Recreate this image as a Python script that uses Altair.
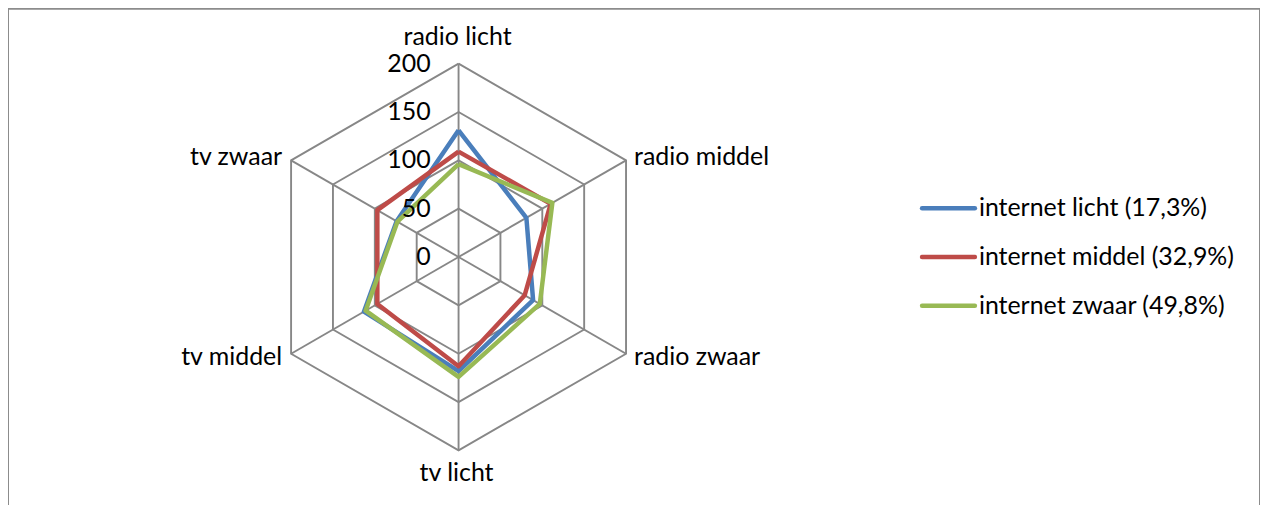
import altair as alt
import pandas as pd

categories = ["radio licht", "radio middel", "radio zwaar", "tv licht", "tv middel", "tv zwaar"]
series_names = ["internet licht (17,3%)", "internet middel (32,9%)", "internet zwaar (49,8%)"]
internet_licht = [131, 81, 89, 118, 113, 74]
internet_middel = [109, 110, 79, 113, 97, 97]
internet_zwaar = [96, 112, 97, 124, 111, 73]
series_colors = ["#4A7EBB", "#BE4B48", "#98B954"]
tick_values = [0, 50, 100, 150, 200]
tick_labels = ["0", "50", "100", "150", "200"]
max_value = 200

series_values = [internet_licht, internet_middel, internet_zwaar]

# long table for the closed polygons
rows = []
for s, vals in zip(series_names, series_values):
    for i in range(len(categories) + 1):
        k = i % len(categories)
        rows.append({"series": s, "category": categories[k], "value": vals[k], "idx": i})
radar_df = pd.DataFrame(rows)

ring_rows = []
for r in tick_values[1:]:
    for i in range(len(categories) + 1):
        ring_rows.append({"ring": r, "idx": i})
ring_df = pd.DataFrame(ring_rows)

spoke_df = pd.DataFrame({"category": categories, "idx": list(range(len(categories))), "value": [max_value] * len(categories)})
tick_df = pd.DataFrame({"value": tick_values, "label": tick_labels})
legend_df = pd.DataFrame({"series": series_names})

# pixel geometry of the plot area
W, H = 1256, 505
cx, cy = 452, 249          # centre of the radar inside the view
R = 194                    # pixels for max_value
k = max_value / R
xdom = [-cx * k, (W - cx) * k]
ydom = [-(H - cy) * k, cy * k]

xs = alt.Scale(domain=xdom, nice=False, zero=False)
ys = alt.Scale(domain=ydom, nice=False, zero=False)
X = lambda f: alt.X(f, type="quantitative", scale=xs, axis=None)
Y = lambda f: alt.Y(f, type="quantitative", scale=ys, axis=None)

PI3 = "PI/3"
grid_color = "#878787"
font = "Lato"
fs = 25

rings = alt.Chart(ring_df).transform_calculate(
    px=f"datum.ring*sin(datum.idx*{PI3})", py=f"datum.ring*cos(datum.idx*{PI3})"
).mark_line(color=grid_color, strokeWidth=1.9).encode(
    x=X("px"), y=Y("py"), detail="ring:N", order="idx:Q"
)

spokes = alt.Chart(spoke_df).transform_calculate(
    px=f"datum.value*sin(datum.idx*{PI3})", py=f"datum.value*cos(datum.idx*{PI3})", zero="0"
).mark_rule(color=grid_color, strokeWidth=1.9).encode(
    x=X("zero"), y=Y("zero"), x2="px:Q", y2="py:Q"
)

color_scale = alt.Scale(domain=series_names, range=series_colors)

lines = alt.Chart(radar_df).transform_calculate(
    px=f"datum.value*sin(datum.idx*{PI3})", py=f"datum.value*cos(datum.idx*{PI3})"
).mark_line(strokeWidth=4.5, strokeJoin="round").encode(
    x=X("px"), y=Y("py"),
    color=alt.Color("series:N", scale=color_scale, legend=None),
    order="idx:Q",
)

ticks = alt.Chart(tick_df).transform_calculate(zero="0").mark_text(
    align="right", baseline="middle", dx=-28, font=font, fontSize=fs, color="black"
).encode(x=X("zero"), y=Y("value"), text="label:N")

def cat_labels(cats, align, dx, dy):
    d = spoke_df[spoke_df["category"].isin(cats)]
    return alt.Chart(d).transform_calculate(
        px=f"datum.value*sin(datum.idx*{PI3})", py=f"datum.value*cos(datum.idx*{PI3})"
    ).mark_text(align=align, baseline="middle", dx=dx, dy=dy, font=font, fontSize=fs, color="black").encode(
        x=X("px"), y=Y("py"), text="category:N"
    )

lab_top = cat_labels(["radio licht"], "center", -1, -27)
lab_bottom = cat_labels(["tv licht"], "center", -2, 23)
lab_r1 = cat_labels(["radio middel"], "left", 8, -3)
lab_r2 = cat_labels(["radio zwaar"], "left", 8, 3)
lab_l1 = cat_labels(["tv zwaar"], "right", -9, -3)
lab_l2 = cat_labels(["tv middel"], "right", -9, 3)

leg_y = alt.Y("series:N", sort=series_names, scale=alt.Scale(type="point", range=[200, 298], padding=0), axis=None)
leg_lines = alt.Chart(legend_df).mark_rule(strokeWidth=4.5, strokeCap="round").encode(
    x=alt.value(917), x2=alt.value(970), y=leg_y,
    color=alt.Color("series:N", scale=color_scale, legend=None),
)
leg_text = alt.Chart(legend_df).mark_text(
    align="left", baseline="middle", font=font, fontSize=fs, color="black"
).encode(x=alt.value(974), y=leg_y, text="series:N")

chart = alt.layer(
    rings, spokes, lines, ticks, lab_top, lab_bottom, lab_r1, lab_r2, lab_l1, lab_l2, leg_lines, leg_text
).resolve_scale(y="independent").properties(
    width=W, height=H, padding=0, autosize=alt.AutoSizeParams(type="none"), background="white"
).configure_view(stroke="#8C8C8C", strokeWidth=2)

chart.save("out.html", embed_options={"renderer": "svg", "actions": False})
